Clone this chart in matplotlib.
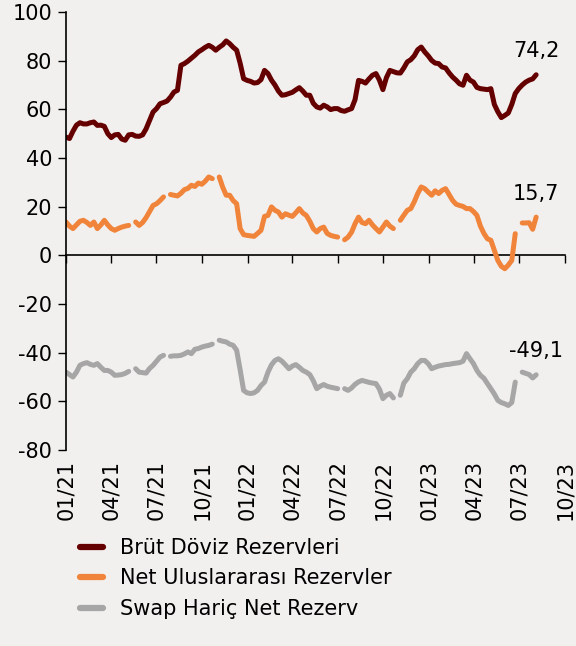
import numpy as np
import pandas as pd
import matplotlib
matplotlib.use("Agg")
import matplotlib.pyplot as plt
import matplotlib.dates as mdates

matplotlib.rcParams['font.family'] = ['DejaVu Sans']
matplotlib.rcParams['axes.unicode_minus'] = False

nan = np.nan

# haftalik veri, 01.01.2021'den itibaren (milyar $)
start_date = "2021-01-01"

brut = [48.6, 48.0, 51.0, 53.5, 54.5, 54.0, 54.0, 54.5, 54.8, 53.4,
        53.5, 53.0, 50.0, 48.4, 49.5, 49.7, 47.8, 47.3, 49.5, 49.7,
        49.0, 48.9, 49.5, 52.0, 55.5, 58.9, 60.3, 62.3, 62.8, 63.4,
        65.0, 67.1, 67.8, 78.1, 78.8, 79.8, 81.0, 82.2, 83.6, 84.5,
        85.5, 86.3, 85.5, 84.3, 85.5, 86.5, 88.1, 87.0, 85.5, 84.3,
        79.0, 72.6, 71.9, 71.5, 70.8, 71.0, 72.2, 76.0, 74.7, 72.0,
        70.0, 67.5, 65.8, 66.0, 66.5, 67.0, 68.0, 68.9, 67.5, 65.8,
        65.8, 62.5, 61.0, 60.5, 61.7, 61.0, 59.9, 60.3, 60.3, 59.5,
        59.2, 59.8, 60.3, 64.0, 71.9, 71.5, 70.8, 72.5, 74.0, 74.7,
        72.0, 68.1, 73.0, 76.0, 75.5, 75.0, 74.9, 77.0, 79.5, 80.4,
        82.0, 84.5, 85.6, 83.6, 82.0, 80.1, 79.0, 78.8, 77.4, 77.0,
        75.0, 73.3, 72.0, 70.5, 69.9, 74.0, 72.0, 71.2, 69.0, 68.5,
        68.3, 68.1, 68.5, 62.0, 59.0, 56.6, 57.5, 58.5, 62.0, 66.5,
        68.5, 70.0, 71.2, 72.0, 72.5, 74.2]

net = [13.7, 12.0, 11.0, 12.5, 14.0, 14.4, 13.5, 12.3, 13.7, 11.0,
       12.5, 14.4, 12.5, 11.0, 10.3, 11.0, 11.6, 12.0, 12.3, nan,
       13.7, 12.3, 13.5, 15.5, 18.0, 20.5, 21.2, 22.5, 24.0, nan,
       25.0, 24.7, 24.4, 25.5, 27.0, 27.5, 28.8, 28.3, 29.7, 29.2,
       30.5, 32.2, 31.5, nan, 32.2, 28.0, 24.7, 24.7, 22.5, 21.2,
       11.0, 8.5, 8.2, 8.0, 7.8, 9.0, 10.3, 16.0, 16.4, 19.9,
       18.5, 17.8, 15.7, 17.1, 16.5, 16.0, 17.5, 19.2, 17.4, 16.4,
       14.0, 11.0, 9.6, 11.0, 11.6, 9.0, 8.2, 7.8, 7.5, nan,
       6.4, 7.5, 9.5, 13.0, 15.7, 13.5, 13.0, 14.4, 12.5, 11.0,
       9.6, 11.6, 13.7, 12.0, 11.0, nan, 14.4, 16.5, 18.5, 19.2,
       22.0, 25.4, 28.1, 27.4, 26.0, 24.7, 26.5, 25.4, 26.7, 27.4,
       25.0, 22.6, 21.0, 20.5, 20.1, 19.2, 19.2, 18.0, 16.4, 12.0,
       9.0, 6.8, 6.2, 2.0, -2.1, -4.5, -5.5, -4.0, -2.1, 8.9,
       nan, 13.3, 13.3, 13.4, 10.7, 15.7]

swap_haric = [-48.0, -49.0, -50.0, -48.0, -45.2, -44.5, -44.1, -44.8, -45.2, -44.5,
              -46.0, -47.3, -47.3, -48.0, -49.3, -49.2, -49.0, -48.5, -47.7, nan,
              -46.6, -48.0, -48.2, -48.4, -46.5, -45.2, -43.5, -41.8, -41.1, nan,
              -41.5, -41.3, -41.3, -41.1, -40.5, -39.7, -40.4, -38.6, -38.3, -37.7,
              -37.3, -37.0, -36.5, nan, -34.9, -35.3, -35.6, -36.5, -37.0, -39.0,
              -47.0, -55.5, -56.5, -56.8, -56.5, -55.5, -53.5, -52.1, -48.0, -45.0,
              -43.2, -42.5, -43.5, -45.0, -46.6, -45.5, -44.9, -46.0, -47.3, -48.0,
              -49.0, -51.5, -54.8, -53.8, -53.1, -53.8, -54.2, -54.5, -54.8, nan,
              -54.8, -55.5, -54.5, -53.0, -52.0, -51.4, -51.8, -52.2, -52.5, -52.7,
              -55.0, -58.9, -57.5, -56.8, -58.6, nan, -57.5, -52.5, -50.7, -48.0,
              -46.6, -44.5, -43.2, -43.2, -44.5, -46.6, -46.0, -45.5, -45.2, -44.9,
              -44.8, -44.5, -44.3, -44.1, -43.5, -40.4, -42.5, -44.5, -47.3, -49.3,
              -50.5, -52.7, -54.8, -57.0, -59.6, -60.5, -61.0, -61.7, -60.5, -52.1,
              nan, -48.0, -48.5, -49.0, -50.4, -49.1]

labels = ["Brüt Döviz Rezervleri", "Net Uluslararası Rezervler", "Swap Hariç Net Rezerv"]
colors = ["#650000", "#f0843a", "#a6a6a6"]

tick_dates = ["2021-01-01", "2021-04-01", "2021-07-01", "2021-10-01",
              "2022-01-01", "2022-04-01", "2022-07-01", "2022-10-01",
              "2023-01-01", "2023-04-01", "2023-07-01", "2023-10-01"]

bg = "#f2f0ee"


def data_viewer():
    fig = plt.figure(figsize=(5.76, 6.46), dpi=100, facecolor=bg)
    ax = fig.add_axes([66 / 576, 1 - 450 / 646, 499 / 576, 438 / 646])
    ax.set_facecolor(bg)

    dates = pd.date_range(start_date, periods=len(brut), freq="7D")
    x = mdates.date2num(dates)
    ticks = mdates.date2num(pd.to_datetime(tick_dates))

    for series, label, color in zip([brut, net, swap_haric], labels, colors):
        ax.plot(x, series, color=color, lw=3.6, label=label,
                solid_capstyle="round", solid_joinstyle="round")
        last = series[-1]
        ax.annotate("{:.1f}".format(last).replace(".", ","), (x[-1], last),
                    xytext=(0, 17), textcoords="offset points",
                    ha="center", va="center", fontsize=15, color="black")

    ax.set_xlim(ticks[0], ticks[-1])
    ax.set_ylim(-80, 100)
    ax.set_yticks(range(-80, 101, 20))
    ax.tick_params(axis="y", labelsize=15, length=6, width=1, pad=4)

    # alttaki etiketler (cizgisiz)
    ax.set_xticks(ticks)
    ax.set_xticklabels([pd.Timestamp(t).strftime("%m/%y") for t in tick_dates],
                       rotation=90, fontsize=15)
    ax.tick_params(axis="x", length=0, pad=7)

    for s in ["top", "right", "bottom"]:
        ax.spines[s].set_visible(False)
    ax.spines["left"].set_linewidth(1.2)

    # sifir cizgisi uzerindeki x ekseni
    sec = ax.secondary_xaxis(80 / 180)
    sec.set_xticks(ticks)
    sec.tick_params(axis="x", labelbottom=False, labeltop=False,
                    length=6, width=1, direction="out")
    sec.spines["bottom"].set_linewidth(1.2)

    leg = fig.legend(loc="upper left", bbox_to_anchor=(80 / 576, 1 - 538 / 646),
                     frameon=False, fontsize=15, handlelength=1.1, handletextpad=0.8,
                     labelspacing=0.5, borderpad=0, borderaxespad=0)
    for line in leg.get_lines():
        line.set_linewidth(4.5)
        line.set_solid_capstyle("round")

    fig.savefig("out.png", dpi=100, facecolor=bg)


def main():
    data_viewer()


if __name__ == '__main__':
    main()
